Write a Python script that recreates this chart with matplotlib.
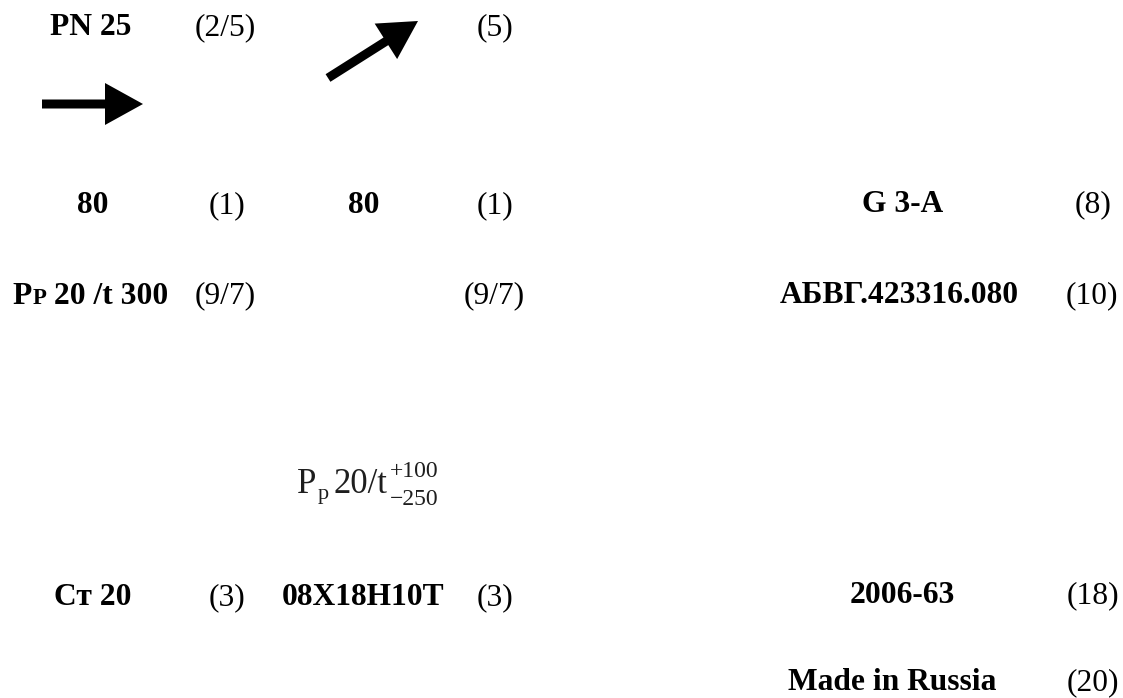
import matplotlib
matplotlib.use('Agg')
import matplotlib.pyplot as plt

W, H = 1123, 698
DPI = 100

# Bold designations and their position numbers (in brackets)
bold_labels = ['PN 25', '80', '80', 'G 3-A', 'АБВГ.423316.080',
               'Ст 20', '08Х18Н10Т', '2006-63', 'Made in Russia']
bold_xy = [(50, 35), (77, 213), (348, 213), (862, 212), (780, 303),
           (54, 605), (282, 605), (850, 603), (788, 690)]

# left column numbers (left edge) and right column numbers (right edge)
num_labels = ['(2/5)', '(5)', '(1)', '(1)', '(9/7)', '(9/7)', '(3)', '(3)']
num_xy = [(195, 35), (477, 35), (209, 213), (477, 213),
          (195, 303), (464, 303), (209, 605), (477, 605)]
right_labels = ['(8)', '(10)', '(18)', '(20)']
right_xy = [(1111, 212), (1118, 303), (1119, 603), (1119, 690)]

# formula marking: main part, subscript, upper and lower limits
formula_main = ['P', '20/t']
formula_sub = 'p'
formula_upper = '+100'
formula_lower = '\u2212250'

# arrows: (tail x, tail y, tip x, tip y)
arrows = [(42, 104, 143, 104), (328, 78, 418, 21)]

FONT = 'Liberation Serif'
SIZE = 22.7

fig = plt.figure(figsize=(W / DPI, H / DPI), dpi=DPI, facecolor='white')
ax = fig.add_axes([0, 0, 1, 1])
ax.set_xlim(0, W)
ax.set_ylim(H, 0)
ax.axis('off')

for txt, (x, y) in zip(bold_labels, bold_xy):
    ax.text(x, y, txt, fontfamily=FONT, fontsize=SIZE, fontweight='bold',
            ha='left', va='baseline', color='black')

for txt, (x, y) in zip(num_labels, num_xy):
    ax.text(x, y, txt, fontfamily=FONT, fontsize=SIZE,
            ha='left', va='baseline', color='black')

for txt, (x, y) in zip(right_labels, right_xy):
    ax.text(x, y, txt, fontfamily=FONT, fontsize=SIZE,
            ha='right', va='baseline', color='black')

fig.canvas.draw()
renderer = fig.canvas.get_renderer()
inv = ax.transData.inverted()


def right_edge(t):
    return inv.transform((t.get_window_extent(renderer).x1, 0))[0]


# "Pp 20 /t 300" with the small-caps second P
y3 = 304
t1 = ax.text(12, y3, 'P', fontfamily=FONT, fontsize=SIZE, fontweight='bold',
             ha='left', va='baseline', color='black')
t2 = ax.text(right_edge(t1) + 1, y3, 'P', fontfamily=FONT, fontsize=SIZE * 0.72,
             fontweight='bold', ha='left', va='baseline', color='black')
ax.text(right_edge(t2), y3, ' 20 /t 300', fontfamily=FONT, fontsize=SIZE,
        fontweight='bold', ha='left', va='baseline', color='black')

# Formula  P_p 20/t (+100 / -250)
FCOL = '#1e1e1e'
fy = 493
p = ax.text(297, fy, formula_main[0], fontfamily=FONT, fontsize=25,
            ha='left', va='baseline', color=FCOL)
s = ax.text(right_edge(p) + 1, fy + 6, formula_sub, fontfamily=FONT,
            fontsize=16, ha='left', va='baseline', color=FCOL)
m = ax.text(right_edge(s) + 5, fy, formula_main[1], fontfamily=FONT,
            fontsize=25, ha='left', va='baseline', color=FCOL)
xl = right_edge(m) + 2
ax.text(xl, fy - 16, formula_upper, fontfamily=FONT, fontsize=17,
        ha='left', va='baseline', color=FCOL)
ax.text(xl, fy + 12, formula_lower, fontfamily=FONT, fontsize=17,
        ha='left', va='baseline', color=FCOL)

for x0, y0, x1, y1 in arrows:
    ax.arrow(x0, y0, x1 - x0, y1 - y0, width=9, head_width=42,
             head_length=38, length_includes_head=True,
             color='black', lw=0)

fig.savefig('out.png', dpi=DPI, facecolor='white')
plt.close(fig)
